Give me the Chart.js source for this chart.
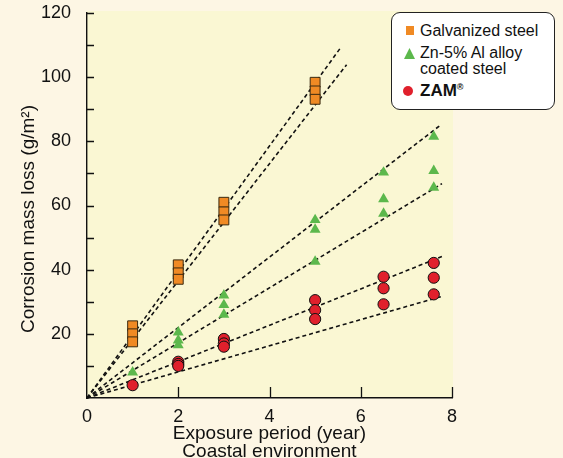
<!DOCTYPE html>
<html>
<head>
<meta charset="utf-8">
<script src="https://cdn.jsdelivr.net/npm/chart.js@4.4.1/dist/chart.umd.min.js"></script>
<style>
  html, body { margin:0; padding:0; background:#fdf6e4; }
  #wrap { position:relative; width:563px; height:458px; overflow:hidden; }
  #legend { position:absolute; left:391px; top:12px; width:164px; height:98px; background:#fff;
    border:1.5px solid #222; border-radius:9px; font-family:"Liberation Sans", Arial, sans-serif;
    font-size:16px; color:#111; box-sizing:border-box; }
  .row { position:absolute; left:28px; line-height:16px; white-space:nowrap; }
  .mk { position:absolute; }
</style>
</head>
<body>
<div id="wrap">
  <canvas id="c" width="563" height="458"></canvas>
  <div id="legend">
    <div class="mk" style="left:14px;top:13px;width:8px;height:9px;background:#f08a24;"></div>
    <div class="row" style="top:10px;">Galvanized steel</div>
    <svg class="mk" style="left:12px;top:35px;" width="11" height="11"><polygon points="5.5,0 11,11 0,11" fill="#5cb84c"/></svg>
    <div class="row" style="top:32px;">Zn-5% Al alloy<br>coated steel</div>
    <div class="mk" style="left:11px;top:73px;width:10px;height:10px;border-radius:50%;background:#e0202c;"></div>
    <div class="row" style="top:70px;font-weight:bold;font-size:17px;">ZAM<sup style="font-size:9px;vertical-align:6px;line-height:0;">®</sup></div>
  </div>
</div>
<script>
// ---- data ----
const galvX = [1,1,1, 2,2,2, 3,3,3, 5,5,5];
const galvY = [22.5,20,17.5, 41.5,39,37, 61,58,55.5, 98.4,95.7,93.1];
const znX   = [1, 2,2,2, 3,3,3, 5,5,5, 6.5,6.5,6.5, 7.6,7.6,7.6];
const znY   = [8, 20.5,18,16.5, 32,29,26, 55.5,52.5,42.5, 70.3,62,57.5, 81.5,70.8,65.6];
const zamX  = [1, 2,2,2, 3,3,3, 5,5,5, 6.5,6.5,6.5, 7.6,7.6,7.6];
const zamY  = [4, 11.3,10.6,10, 18.4,17,16, 30.5,27.4,24.6, 37.8,34.2,29.2, 42.1,37.5,32.3];
// dashed fit lines: [x, y] end points from origin
const fitGalvUpper = [[0,0],[5.56,109.2]];
const fitGalvLower = [[0,0],[5.69,103.9]];
const fitZnUpper   = [[0,0],[7.76,85.2]];
const fitZnLower   = [[0,0],[7.78,66.8]];
const fitZamUpper  = [[0,0],[7.80,44.2]];
const fitZamLower  = [[0,0],[7.76,31.6]];
const xTicks = [0,2,4,6,8];
const yLabels = [20,40,60,80,100,120];
const yTitle = 'Corrosion mass loss (g/m²)';

const pts = (xs, ys) => xs.map((x,i)=>({x, y: ys[i]}));
const seg = (a) => a.map(p=>({x:p[0], y:p[1]}));

const FONT = "'Liberation Sans', Arial, sans-serif";

const lineDS = (arr) => ({
  type:'line', data: seg(arr), borderColor:'#111', borderWidth:1.6, borderDash:[4,3],
  pointRadius:0, fill:false, order:2, clip:false
});

const bgPlugin = {
  id:'bg',
  beforeDraw(chart){
    const {ctx, chartArea:a} = chart;
    ctx.save();
    ctx.fillStyle = '#faf7d3';
    ctx.fillRect(a.left, a.top - 2, a.right - a.left + 1, a.bottom - a.top + 2);
    ctx.restore();
  }
};
const tickPlugin = {
  id:'ticks',
  afterDraw(chart){
    const {ctx, scales:{x, y}} = chart;
    ctx.save();
    ctx.strokeStyle = '#111';
    ctx.lineWidth = 1.3;
    ctx.beginPath();
    y.ticks.forEach(t=>{
      if (t.value === 0) return;
      const py = Math.round(y.getPixelForValue(t.value)) + 0.5;
      ctx.moveTo(x.left, py); ctx.lineTo(x.left + 7, py);
    });
    x.ticks.forEach(t=>{
      if (t.value === 0) return;
      const px = Math.round(x.getPixelForValue(t.value)) + 0.5;
      ctx.moveTo(px, y.bottom); ctx.lineTo(px, y.bottom - 11);
    });
    ctx.stroke();
    // y axis title
    ctx.fillStyle = '#111';
    ctx.font = '19px ' + FONT;
    ctx.textAlign = 'center';
    ctx.textBaseline = 'middle';
    ctx.translate(29, 219);
    ctx.rotate(-Math.PI/2);
    ctx.fillText(yTitle, 0, 0);
    ctx.restore();
  }
};

new Chart(document.getElementById('c'), {
  type:'scatter',
  data:{
    datasets:[
      { label:'Galvanized steel', data: pts(galvX, galvY), pointStyle:'rect', pointRadius:7,
        backgroundColor:'#f08a24', borderColor:'#3a2a10', borderWidth:1, order:1 },
      { label:'Zn-5% Al alloy coated steel', data: pts(znX, znY), pointStyle:'triangle', pointRadius:6.3,
        backgroundColor:'#5cb84c', borderColor:'#5cb84c', borderWidth:0, order:1 },
      { label:'ZAM®', data: pts(zamX, zamY), pointStyle:'circle', pointRadius:5.6,
        backgroundColor:'#e0202c', borderColor:'#111', borderWidth:1, order:1 },
      lineDS(fitGalvUpper), lineDS(fitGalvLower),
      lineDS(fitZnUpper), lineDS(fitZnLower),
      lineDS(fitZamUpper), lineDS(fitZamLower)
    ]
  },
  options:{
    responsive:false, animation:false, devicePixelRatio:1,
    layout:{ padding:{ left:0, top:13, right:111, bottom:0 } },
    plugins:{ legend:{display:false}, tooltip:{enabled:false} },
    scales:{
      x:{
        type:'linear', min:0, max:8,
        afterBuildTicks(s){ s.ticks = xTicks.map(v=>({value:v})); },
        afterFit(s){ s.height = 60; s.paddingLeft = 0; s.paddingRight = 0; },
        grid:{ display:false },
        border:{ display:true, color:'#111', width:1.4 },
        ticks:{ color:'#111', font:{family:FONT, size:18}, padding:0, maxRotation:0 },
        title:{ display:true, text:['Exposure period (year)','Coastal environment'], color:'#111',
          font:{family:FONT, size:19, lineHeight:0.95}, padding:{top:0, bottom:-3} }
      },
      y:{
        type:'linear', min:0, max:120,
        ticks:{ stepSize:10, color:'#111', font:{family:FONT, size:18}, padding:8,
          callback:(v)=> yLabels.includes(v) ? String(v) : '' },
        afterFit(s){ s.width = 87; s.paddingTop = 0; s.paddingBottom = 0; },
        grid:{ display:false },
        border:{ display:true, color:'#111', width:1.4 },
        title:{ display:false, text: yTitle }
      }
    }
  },
  plugins:[bgPlugin, tickPlugin]
});
</script>
</body>
</html>
